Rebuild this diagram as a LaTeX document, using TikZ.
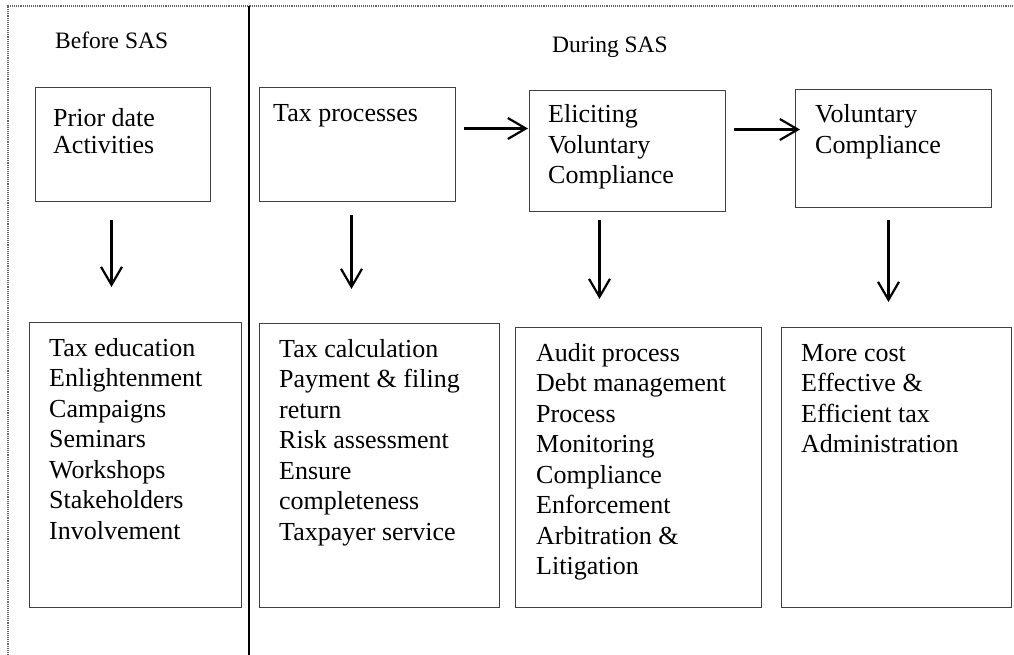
\documentclass[tikz,border=0pt]{standalone}
\usepackage{fontspec}
\setmainfont{Liberation Serif}
\usetikzlibrary{arrows.meta}
\begin{document}
\begin{tikzpicture}[x=1pt,y=-1pt,
  boxnode/.style={draw=black!75, line width=1pt, rectangle, inner sep=0pt, anchor=north west},
  txt/.style={anchor=base west, inner sep=0pt, font=\fontsize{26}{30.5}\selectfont},
  head/.style={anchor=base west, inner sep=0pt, font=\fontsize{23.5}{28}\selectfont},
  arr/.style={line width=2.2pt, -{Straight Barb[length=18pt,width=21pt,line width=2.2pt]}}
]
\useasboundingbox (0,0) rectangle (1014,655);
% frame
\draw[black!60, densely dotted, line width=1.1pt] (8,655) -- (8,6) -- (1014,6);
\draw[line width=1.8pt] (249,6) -- (249,655);
% headers
\node[head] (hb) at (55,49) {Before SAS};
\node[head] (hd) at (552,53) {During SAS};
% top boxes
\node[boxnode, minimum width=175pt, minimum height=114pt] (p1) at (35,87) {};
\node[boxnode, minimum width=196pt, minimum height=114pt] (p2) at (259,87) {};
\node[boxnode, minimum width=196pt, minimum height=121pt] (p3) at (529,90) {};
\node[boxnode, minimum width=196pt, minimum height=118pt] (p4) at (795,89) {};
\node[txt, font=\fontsize{26}{27}\selectfont] (p1t) at (53,127) {\parbox[t]{200pt}{Prior date\\Activities}};
\node[txt] (p2t) at (273,122) {\parbox[t]{200pt}{Tax processes}};
\node[txt] (p3t) at (548,123) {\parbox[t]{200pt}{Eliciting\\Voluntary\\Compliance}};
\node[txt] (p4t) at (815,123) {\parbox[t]{200pt}{Voluntary\\Compliance}};
% bottom boxes
\node[boxnode, minimum width=212pt, minimum height=285pt] (q1) at (29,322) {};
\node[boxnode, minimum width=240pt, minimum height=284pt] (q2) at (259,323) {};
\node[boxnode, minimum width=246pt, minimum height=280pt] (q3) at (515,327) {};
\node[boxnode, minimum width=230pt, minimum height=280pt] (q4) at (781,327) {};
\node[txt] (q1t) at (49,356) {\parbox[t]{200pt}{Tax education\\Enlightenment\\Campaigns\\Seminars\\Workshops\\Stakeholders\\Involvement}};
\node[txt] (q2t) at (279,357) {\parbox[t]{230pt}{Tax calculation\\Payment \& filing\\return\\Risk assessment\\Ensure\\completeness\\Taxpayer service}};
\node[txt] (q3t) at (536,361) {\parbox[t]{230pt}{Audit process\\Debt management\\Process\\Monitoring\\Compliance\\Enforcement\\Arbitration \&\\Litigation}};
\node[txt] (q4t) at (801,361) {\parbox[t]{220pt}{More cost\\Effective \&\\Efficient tax\\Administration}};
% vertical arrows
\draw[arr] ([xshift=-11.5pt,yshift=-18pt]p1.south) -- ([xshift=-24pt,yshift=35pt]q1.north);
\draw[arr] ([xshift=-6pt,yshift=-13pt]p2.south) -- ([xshift=-28pt,yshift=34pt]q2.north);
\draw[arr] ([xshift=-28pt,yshift=-8pt]p3.south) -- ([xshift=-39pt,yshift=28pt]q3.north);
\draw[arr] ([xshift=-5pt,yshift=-12pt]p4.south) -- ([xshift=-8pt,yshift=25pt]q4.north);
% horizontal arrows
\draw[arr] ([xshift=8pt,yshift=16pt]p2.east) -- ([xshift=-1pt,yshift=22.5pt]p3.west);
\draw[arr] ([xshift=8pt,yshift=21.5pt]p3.east) -- ([xshift=5pt,yshift=19pt]p4.west);
\end{tikzpicture}
\end{document}
